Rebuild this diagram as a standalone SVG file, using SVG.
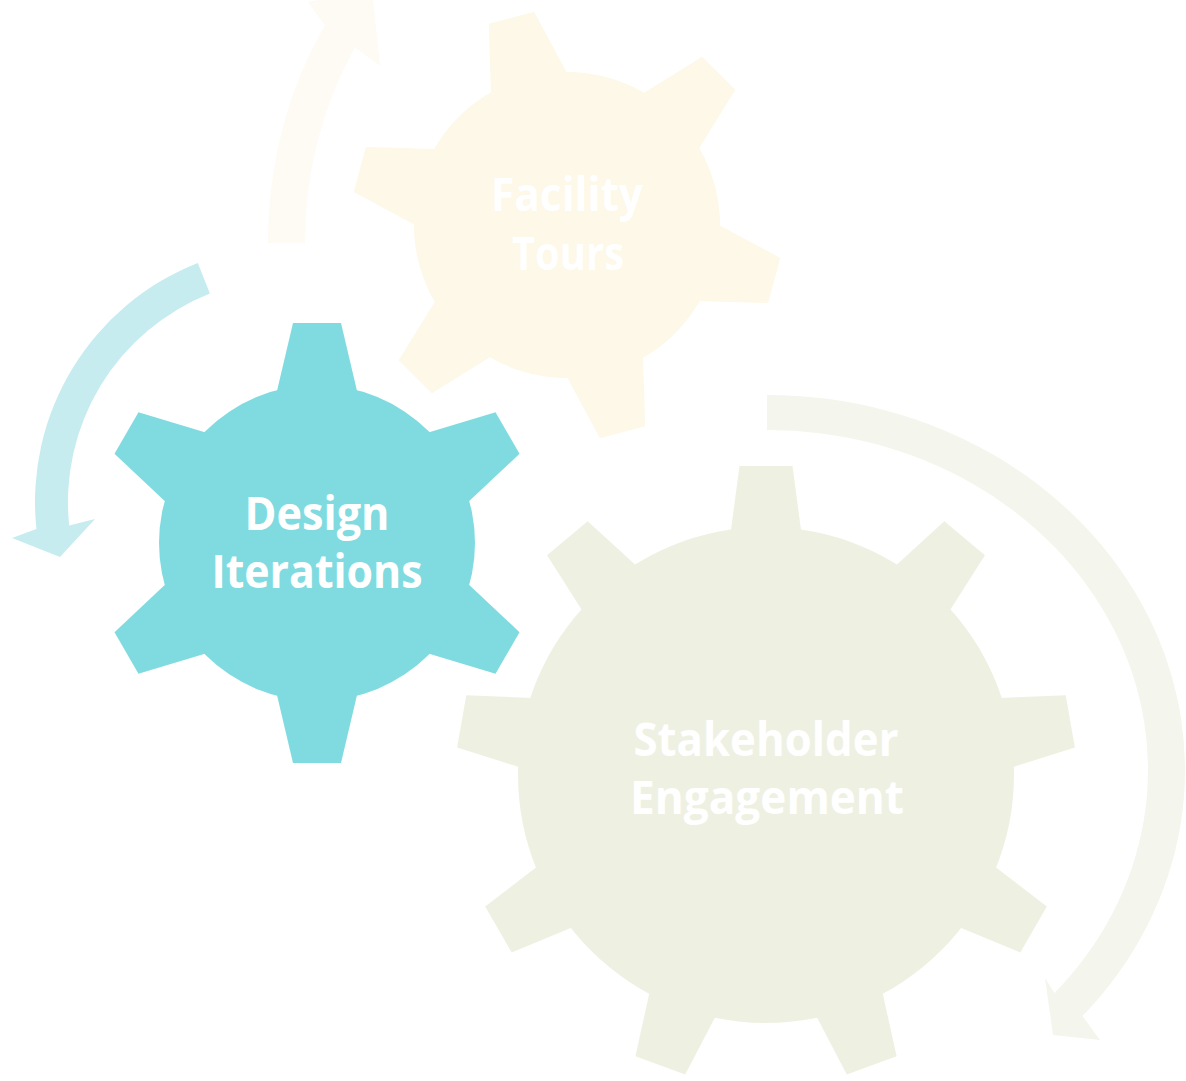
<svg xmlns="http://www.w3.org/2000/svg" xmlns:xlink="http://www.w3.org/1999/xlink" width="1186" height="1081" viewBox="0 0 1186 1081">
<defs>
<style>
.lbl{font-family:"Open Sans","Noto Sans","Liberation Sans",sans-serif;font-weight:700;font-size:47px;fill:#FFFFFF;text-anchor:middle;font-variant-ligatures:none}
.g-design{fill:#80DBE0}
.g-facility{fill:#FDF8E7}
.g-stake{fill:#EEF1E2}
.a-design{fill:#C6ECF0}
.a-facility{fill:#FDFBF3}
.a-stake{fill:#F4F5EC}
</style>
<path id="tooth6" d="M -40.5 -150 L -24 -220 L 24 -220 L 40.5 -150 Z"/>
<path id="tooth9" d="M -37 -230 L -26.5 -309 L 26.5 -309 L 37 -230 Z"/>
</defs>
<rect width="1186" height="1081" fill="#FFFFFF"/>

<g id="connectors">
<path id="arrow-facility" class="a-facility" d="M 268 243 A 299 370 0 0 1 325.1 25.5 L 308 2 L 372 -10 L 380 65.6 L 355 47.3 A 262 333 0 0 0 305 243 Z"/>
<path id="arrow-design" class="a-design" d="M 197.8 262.9 A 257 257 0 0 0 36.4 528.9 L 12 538 L 60 557 L 95 519 L 69.2 525.4 A 224 224 0 0 1 209.9 293.6 Z"/>
<path id="arrow-stakeholder" class="a-stake" d="M 767 395 A 418 375 0 0 1 1082.5 1016 L 1100 1040 L 1053 1035 L 1045 978 L 1054.5 993.1 A 381 340 0 0 0 767 430 Z"/>
</g>

<g id="node-facility-tours">
<g class="g-facility" transform="translate(567,225) rotate(-15) scale(0.975)">
<circle r="157"/>
<use xlink:href="#tooth6"/>
<use xlink:href="#tooth6" transform="rotate(60)"/>
<use xlink:href="#tooth6" transform="rotate(120)"/>
<use xlink:href="#tooth6" transform="rotate(180)"/>
<use xlink:href="#tooth6" transform="rotate(240)"/>
<use xlink:href="#tooth6" transform="rotate(300)"/>
</g>
<text class="lbl" x="567" y="211" textLength="152" lengthAdjust="spacingAndGlyphs">Facility</text>
<text class="lbl" x="568" y="270" textLength="112" lengthAdjust="spacingAndGlyphs">Tours</text>
</g>

<g id="node-design-iterations">
<g class="g-design" transform="translate(317,543)">
<circle r="158"/>
<use xlink:href="#tooth6"/>
<use xlink:href="#tooth6" transform="rotate(60)"/>
<use xlink:href="#tooth6" transform="rotate(120)"/>
<use xlink:href="#tooth6" transform="rotate(180)"/>
<use xlink:href="#tooth6" transform="rotate(240)"/>
<use xlink:href="#tooth6" transform="rotate(300)"/>
</g>
<text class="lbl" x="317" y="530" textLength="145" lengthAdjust="spacingAndGlyphs">Design</text>
<text class="lbl" x="317" y="588" textLength="211" lengthAdjust="spacingAndGlyphs">Iterations</text>
</g>

<g id="node-stakeholder-engagement">
<g class="g-stake" transform="translate(766,775)">
<circle r="248"/>
<use xlink:href="#tooth9"/>
<use xlink:href="#tooth9" transform="rotate(40)"/>
<use xlink:href="#tooth9" transform="rotate(80)"/>
<use xlink:href="#tooth9" transform="rotate(120)"/>
<use xlink:href="#tooth9" transform="rotate(160)"/>
<use xlink:href="#tooth9" transform="rotate(200)"/>
<use xlink:href="#tooth9" transform="rotate(240)"/>
<use xlink:href="#tooth9" transform="rotate(280)"/>
<use xlink:href="#tooth9" transform="rotate(320)"/>
</g>
<text class="lbl" x="766" y="756" textLength="265" lengthAdjust="spacingAndGlyphs">Stakeholder</text>
<text class="lbl" x="767" y="814" textLength="274" lengthAdjust="spacingAndGlyphs">Engagement</text>
</g>
</svg>
